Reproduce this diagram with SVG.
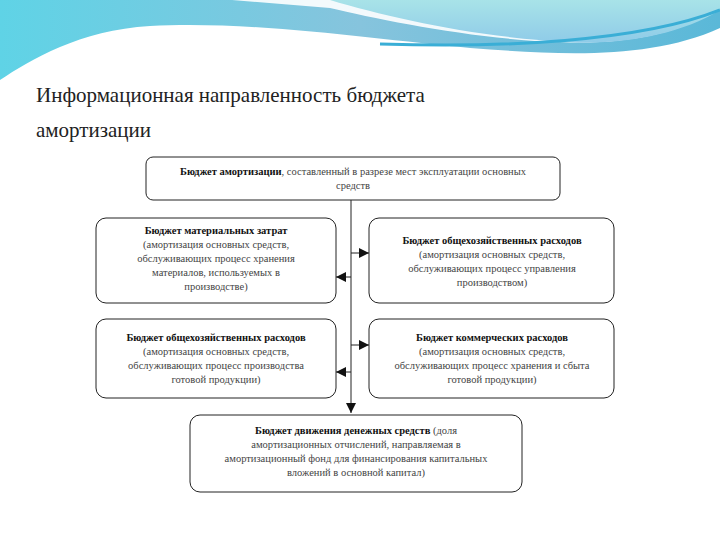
<svg xmlns="http://www.w3.org/2000/svg" width="720" height="540" viewBox="0 0 720 540">
<defs>
<linearGradient id="g1" x1="0" y1="0" x2="1" y2="0"><stop offset="0" stop-color="#5fd3e6"/><stop offset="0.5" stop-color="#86c4dd"/><stop offset="1" stop-color="#5ab8d8"/></linearGradient>
<linearGradient id="g2" x1="0" y1="0" x2="0" y2="1"><stop offset="0" stop-color="#a8e3e8"/><stop offset="1" stop-color="#8fcbe8"/></linearGradient>
<marker id="ah" viewBox="0 0 10 10" refX="10" refY="5" markerWidth="10" markerHeight="10" markerUnits="userSpaceOnUse" orient="auto"><path d="M0,0 L10,5 L0,10 z" fill="#111"/></marker>
<style>
.box{fill:#fff;stroke:#222;stroke-width:1}
.t{font-family:'Liberation Serif','DejaVu Serif',serif;font-size:10.5px;fill:#444;text-anchor:middle}
.h{font-family:'Liberation Serif','DejaVu Serif',serif;font-size:21px;fill:#222}
.b{font-weight:bold;fill:#111}
.c{stroke:#222;stroke-width:1;fill:none}
</style>
</defs>
<rect width="720" height="540" fill="#fff"/>
<path d="M0,0 H720 V28 C650,60 560,55 470,48 C380,40 250,20 150,26 C80,30 30,60 0,80 Z" fill="url(#g1)"/>
<path d="M232,0 H720 V8 C680,35 620,45 560,42 C480,40 380,20 330,8 Z" fill="#fff" opacity="0.9"/>
<path d="M250,0 H720 V10 C680,35 620,45 570,42 C480,38 390,18 330,0 Z" fill="url(#g2)"/>
<path d="M380,44 C500,48 640,42 720,10" stroke="#3aaed6" stroke-width="3" fill="none"/>
<text class="h" x="36" y="102">Информационная направленность бюджета</text>
<text class="h" x="36" y="137">амортизации</text>
<g id="connectors">
<path class="c" d="M351,200 V413" marker-end="url(#ah)"/>
<path class="c" d="M351,253 H369" marker-end="url(#ah)"/>
<path class="c" d="M351,277 H336" marker-end="url(#ah)"/>
<path class="c" d="M351,345 H369" marker-end="url(#ah)"/>
<path class="c" d="M351,372 H336" marker-end="url(#ah)"/>
</g>
<g id="top"><rect class="box" x="146" y="157" width="414" height="43" rx="7"/>
<text class="t" x="353" y="175"><tspan class="b">Бюджет амортизации</tspan>, составленный в разрезе мест эксплуатации основных</text>
<text class="t" x="353" y="189">средств</text></g>
<g id="l1"><rect class="box" x="96" y="218" width="240" height="85" rx="10"/>
<text class="t" x="216" y="234"><tspan class="b">Бюджет материальных затрат</tspan></text>
<text class="t" x="216" y="248">(амортизация основных средств,</text>
<text class="t" x="216" y="262">обслуживающих процесс хранения</text>
<text class="t" x="216" y="276">материалов, используемых в</text>
<text class="t" x="216" y="290">производстве)</text></g>
<g id="r1"><rect class="box" x="369" y="218" width="245" height="85" rx="10"/>
<text class="t" x="492" y="244"><tspan class="b">Бюджет общехозяйственных расходов</tspan></text>
<text class="t" x="492" y="258">(амортизация основных средств,</text>
<text class="t" x="492" y="272">обслуживающих процесс управления</text>
<text class="t" x="492" y="286">производством)</text></g>
<g id="l2"><rect class="box" x="96" y="319" width="240" height="79" rx="10"/>
<text class="t" x="216" y="341"><tspan class="b">Бюджет общехозяйственных расходов</tspan></text>
<text class="t" x="216" y="355">(амортизация основных средств,</text>
<text class="t" x="216" y="369">обслуживающих процесс производства</text>
<text class="t" x="216" y="383">готовой продукции)</text></g>
<g id="r2"><rect class="box" x="369" y="319" width="245" height="79" rx="10"/>
<text class="t" x="492" y="341"><tspan class="b">Бюджет коммерческих расходов</tspan></text>
<text class="t" x="492" y="355">(амортизация основных средств,</text>
<text class="t" x="492" y="369">обслуживающих процесс хранения и сбыта</text>
<text class="t" x="492" y="383">готовой продукции)</text></g>
<g id="bottom"><rect class="box" x="190" y="415" width="332" height="77" rx="10"/>
<text class="t" x="356" y="434"><tspan class="b">Бюджет движения денежных средств</tspan> (доля</text>
<text class="t" x="356" y="448">амортизационных отчислений, направляемая в</text>
<text class="t" x="356" y="462">амортизационный фонд для финансирования капитальных</text>
<text class="t" x="356" y="476">вложений в основной капитал)</text></g>
</svg>
